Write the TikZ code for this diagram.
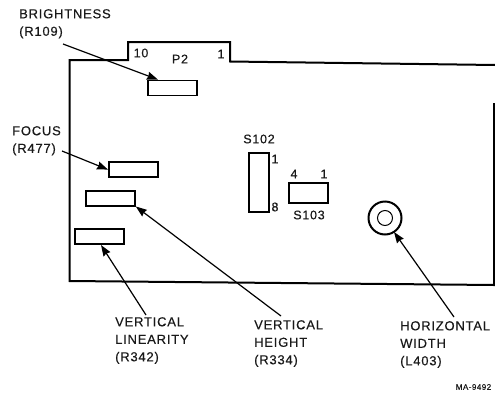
\documentclass[tikz,border=0pt]{standalone}
\usepackage{fontspec}
\setmainfont[LetterSpace=6,FakeBold=0.4]{Liberation Sans}
\usetikzlibrary{arrows.meta}
\tikzset{
  part/.style={draw=black, line width=1.8pt, inner sep=0pt, minimum width=#1},
  part/.default=49pt,
  caption/.style={anchor=north west, align=left, inner sep=0pt, text=black!90, font=\fontsize{13}{17.5}\selectfont},
  pin/.style={inner sep=0pt, text=black!90, font=\fontsize{12.5}{14}\selectfont},
  pointer/.style={draw=black, line width=1.2pt, -{Stealth[length=11pt,width=8pt,inset=1pt]}}
}
\begin{document}
\begin{tikzpicture}[x=1pt,y=-1pt]
\useasboundingbox (0,0) rectangle (495,394);
\draw[black, line width=2pt] (495,65) -- (230,61.5) -- (230,42) -- (128,42) -- (128,60) -- (69.5,60) -- (69.5,281) -- (494,285) -- (494,103);
\node[part, minimum height=15pt] (r109) at (172.5,88) {};
\node[part, minimum height=15pt] (r477) at (133.4,169.6) {};
\node[part, minimum height=15pt] (r334) at (110.4,198.1) {};
\node[part, minimum height=15pt] (r342) at (99.5,236.5) {};
\node[part=20pt, minimum height=59pt] (s102) at (259,182.5) {};
\node[part=39pt, minimum height=20pt] (s103) at (308.5,193) {};
\draw[black, line width=2pt] (385,218) circle (16.5);
\node[draw=black, line width=1pt, circle, inner sep=0pt, minimum size=15pt] (l403) at (385,218) {};
\node[pin] (p2ten) at (141,53) {10};
\node[pin] (p2) at (180,59) {P2};
\node[pin] (p2one) at (221,54) {1};
\node[pin] (s102name) at (259,139) {S102};
\node[pin] (s102one) at (275,159) {1};
\node[pin] (s102eight) at (275,207) {8};
\node[pin] (s103four) at (294,174) {4};
\node[pin] (s103one) at (324,174) {1};
\node[pin] (s103name) at (309,215) {S103};
\node[caption] (brightness) at (19,9) {BRIGHTNESS\\(R109)};
\node[caption] (focus) at (12,126) {FOCUS\\(R477)};
\node[caption] (linearity) at (115,317) {VERTICAL\\LINEARITY\\(R342)};
\node[caption] (height) at (254,320) {VERTICAL\\HEIGHT\\(R334)};
\node[caption] (width) at (400,321) {HORIZONTAL\\WIDTH\\(L403)};
\node[pin, font=\fontsize{8}{10}\selectfont] (mark) at (473.5,387) {MA-9492};
\coordinate (brightnesstail) at (63,44);
\coordinate (focustail) at (62,151);
\coordinate (lineartail) at (146,315);
\coordinate (heighttail) at (281,316);
\coordinate (widthtail) at (454,317);
\draw[pointer] (brightnesstail) -- (r109.150);
\draw[pointer] (focustail) -- (r477.west);
\draw[pointer] (lineartail) -- (101,245);
\draw[pointer] (heighttail) -- (r334.south east);
\draw[pointer] (widthtail) -- (394,232);
\end{tikzpicture}
\end{document}
